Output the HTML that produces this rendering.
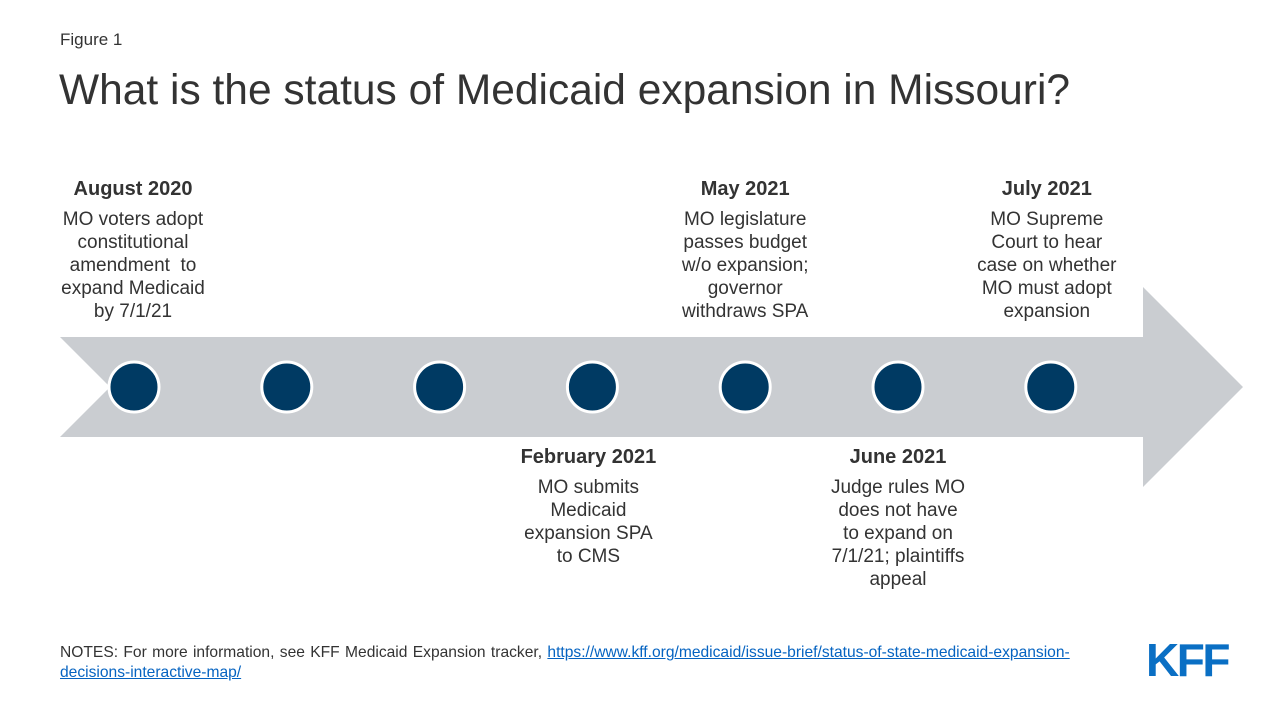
<!DOCTYPE html>
<html><head><meta charset="utf-8"><style>
body{margin:0;width:1280px;height:720px;background:#fff;font-family:"Liberation Sans",Arial,sans-serif;color:#333;position:relative;overflow:hidden}
.abs{position:absolute}
.ev{position:absolute;width:220px;text-align:center;font-size:19px;line-height:23px;color:#333;white-space:nowrap}
.ev b{display:block;font-size:20px;margin-bottom:7px}
</style></head><body>
<div class="abs" style="left:60px;top:30px;font-size:17px">Figure 1</div>
<div class="abs" style="left:59px;top:67px;font-size:42.5px;color:#333">What is the status of Medicaid expansion in Missouri?</div>
<svg class="abs" style="left:0;top:0" width="1280" height="720" id="tl">
<polygon points="60,337 1143,337 1143,287 1243,387 1143,487 1143,437 60,437 110,387" fill="#cacdd1"/>
</svg>
<div id="labels"></div>
<div class="abs" style="left:60px;top:643px;font-size:15.6px;line-height:20px;color:#333;width:1100px;word-spacing:1px;white-space:nowrap">NOTES: For more information, see KFF Medicaid Expansion tracker, <a style="color:#0563c1;text-decoration:underline">https://www.kff.org/medicaid/issue-brief/status-of-state-medicaid-expansion-<br>decisions-interactive-map/</a></div>
<div class="abs" style="left:1146px;top:633px;font-size:46px;font-weight:bold;color:#0a6fc4;letter-spacing:-2.5px">KFF</div>
<script>
const dates=["August 2020","","","February 2021","May 2021","June 2021","July 2021"];
const texts=["MO voters adopt<br>constitutional<br>amendment&nbsp; to<br>expand Medicaid<br>by 7/1/21","","","MO submits<br>Medicaid<br>expansion SPA<br>to CMS","MO legislature<br>passes budget<br>w/o expansion;<br>governor<br>withdraws SPA","Judge rules MO<br>does not have<br>to expand on<br>7/1/21; plaintiffs<br>appeal","MO Supreme<br>Court to hear<br>case on whether<br>MO must adopt<br>expansion"];
const sides=["above","","","below","above","below","above"];
const offs=[-1,0,0,-4,0,0,-4];
const svg=document.getElementById('tl');
const ns="http://www.w3.org/2000/svg";
const x=i=>134+i*152.8;
dates.forEach((d,i)=>{
  const c=document.createElementNS(ns,'circle');
  c.setAttribute('cx',x(i));c.setAttribute('cy',387);c.setAttribute('r',25);
  c.setAttribute('fill','#003a63');c.setAttribute('stroke','#fff');c.setAttribute('stroke-width',3);
  
  
  svg.appendChild(c);
  if(!d) return;
  const el=document.createElement('div');
  el.className='ev';
  
  
  el.style.left=(x(i)-110+offs[i])+'px';
  el.style.top=(sides[i]==='above'?178:446)+'px';
  el.innerHTML='<b>'+d+'</b>'+texts[i];
  document.getElementById('labels').appendChild(el);
});
</script>
</body></html>
